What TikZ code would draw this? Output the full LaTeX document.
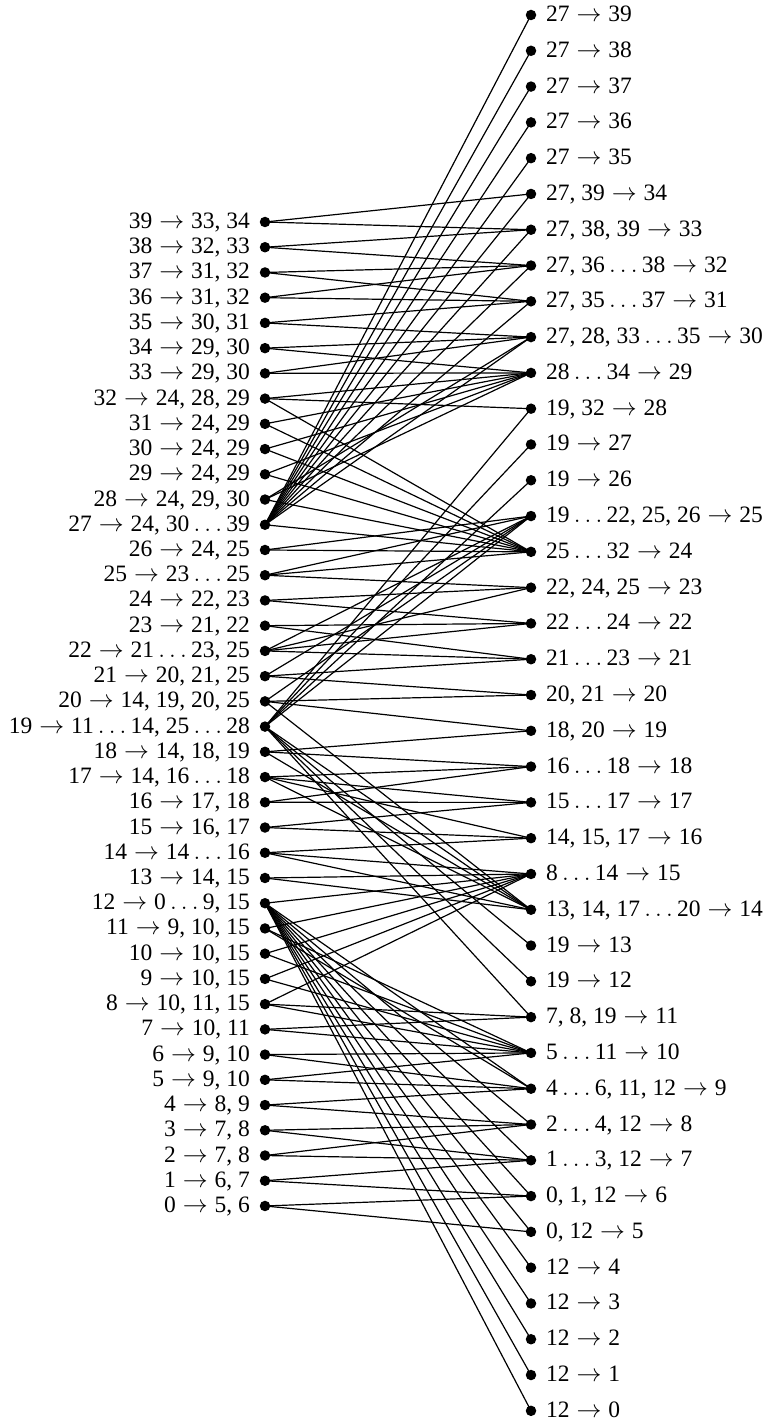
\documentclass[tikz,border=0pt]{standalone}
\usepackage{fontspec}
\setmainfont{Liberation Serif}
\newcommand\rarr{\ensuremath{\;\rightarrow\;}}
\newcommand\dts{\ensuremath{\,\ldots\,}}
\begin{document}
\begin{tikzpicture}[x=1pt,y=-1pt,
  dot/.style={circle,fill=black,inner sep=0pt,minimum size=10.5pt},
  lbl/.style={font=\fontsize{23.5}{28}\selectfont,inner sep=0pt},
  edge/.style={line width=1.2pt,black}]
\useasboundingbox (0,0) rectangle (767,1423);
% left nodes
\foreach \i/\t in {
 39/{39\rarr33, 34}, 38/{38\rarr32, 33}, 37/{37\rarr31, 32}, 36/{36\rarr31, 32},
 35/{35\rarr30, 31}, 34/{34\rarr29, 30}, 33/{33\rarr29, 30}, 32/{32\rarr24, 28, 29},
 31/{31\rarr24, 29}, 30/{30\rarr24, 29}, 29/{29\rarr24, 29}, 28/{28\rarr24, 29, 30},
 27/{27\rarr24, 30\dts39}, 26/{26\rarr24, 25}, 25/{25\rarr23\dts25}, 24/{24\rarr22, 23},
 23/{23\rarr21, 22}, 22/{22\rarr21\dts23, 25}, 21/{21\rarr20, 21, 25}, 20/{20\rarr14, 19, 20, 25},
 19/{19\rarr11\dts14, 25\dts28}, 18/{18\rarr14, 18, 19}, 17/{17\rarr14, 16\dts18}, 16/{16\rarr17, 18},
 15/{15\rarr16, 17}, 14/{14\rarr14\dts16}, 13/{13\rarr14, 15}, 12/{12\rarr0\dts9, 15},
 11/{11\rarr9, 10, 15}, 10/{10\rarr10, 15}, 9/{9\rarr10, 15}, 8/{8\rarr10, 11, 15},
 7/{7\rarr10, 11}, 6/{6\rarr9, 10}, 5/{5\rarr9, 10}, 4/{4\rarr8, 9},
 3/{3\rarr7, 8}, 2/{2\rarr7, 8}, 1/{1\rarr6, 7}, 0/{0\rarr5, 6}}
{
  \node[dot] (L\i) at (265,{222+(39-\i)*25.23}) {};
  \node[lbl,anchor=base east] (LT\i) at ([xshift=-15pt,yshift=-6.5pt]L\i.center) {\t};
}
% right nodes
\foreach \j/\t in {
 39/{27\rarr39}, 38/{27\rarr38}, 37/{27\rarr37}, 36/{27\rarr36}, 35/{27\rarr35},
 34/{27, 39\rarr34}, 33/{27, 38, 39\rarr33}, 32/{27, 36\dts38\rarr32}, 31/{27, 35\dts37\rarr31},
 30/{27, 28, 33\dts35\rarr30}, 29/{28\dts34\rarr29}, 28/{19, 32\rarr28}, 27/{19\rarr27},
 26/{19\rarr26}, 25/{19\dts22, 25, 26\rarr25}, 24/{25\dts32\rarr24}, 23/{22, 24, 25\rarr23},
 22/{22\dts24\rarr22}, 21/{21\dts23\rarr21}, 20/{20, 21\rarr20}, 19/{18, 20\rarr19},
 18/{16\dts18\rarr18}, 17/{15\dts17\rarr17}, 16/{14, 15, 17\rarr16}, 15/{8\dts14\rarr15},
 14/{13, 14, 17\dts20\rarr14}, 13/{19\rarr13}, 12/{19\rarr12}, 11/{7, 8, 19\rarr11},
 10/{5\dts11\rarr10}, 9/{4\dts6, 11, 12\rarr9}, 8/{2\dts4, 12\rarr8}, 7/{1\dts3, 12\rarr7},
 6/{0, 1, 12\rarr6}, 5/{0, 12\rarr5}, 4/{12\rarr4}, 3/{12\rarr3}, 2/{12\rarr2}, 1/{12\rarr1}, 0/{12\rarr0}}
{
  \node[dot] (R\j) at (531,{15+(39-\j)*35.79}) {};
  \node[lbl,anchor=base west] (RT\j) at ([xshift=15pt,yshift=-6.5pt]R\j.center) {\t};
}
% edges
\foreach \i/\js in {
 39/{33,34}, 38/{32,33}, 37/{31,32}, 36/{31,32}, 35/{30,31}, 34/{29,30}, 33/{29,30},
 32/{24,28,29}, 31/{24,29}, 30/{24,29}, 29/{24,29}, 28/{24,29,30},
 27/{24,30,31,32,33,34,35,36,37,38,39}, 26/{24,25}, 25/{23,24,25}, 24/{22,23},
 23/{21,22}, 22/{21,22,23,25}, 21/{20,21,25}, 20/{14,19,20,25},
 19/{11,12,13,14,25,26,27,28}, 18/{14,18,19}, 17/{14,16,17,18}, 16/{17,18},
 15/{16,17}, 14/{14,15,16}, 13/{14,15}, 12/{0,1,2,3,4,5,6,7,8,9,15},
 11/{9,10,15}, 10/{10,15}, 9/{10,15}, 8/{10,11,15}, 7/{10,11}, 6/{9,10},
 5/{9,10}, 4/{8,9}, 3/{7,8}, 2/{7,8}, 1/{6,7}, 0/{5,6}}
{
  \foreach \j in \js { \draw[edge] (L\i.center) -- (R\j.center); }
}
\end{tikzpicture}
\end{document}
